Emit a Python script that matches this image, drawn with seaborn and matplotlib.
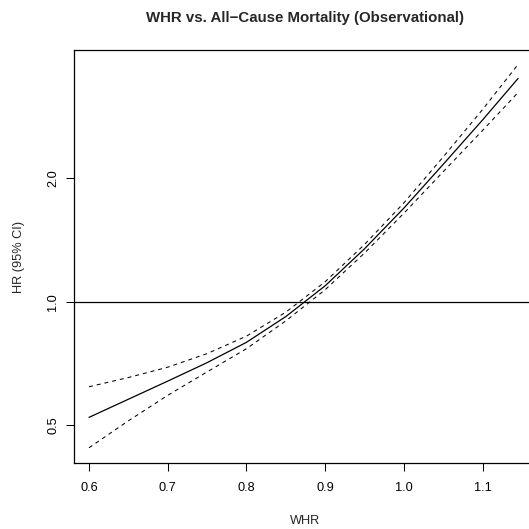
import numpy as np
import pandas as pd
import matplotlib
matplotlib.use("Agg")
import matplotlib.pyplot as plt
from matplotlib.ticker import FixedLocator, FixedFormatter, NullLocator
import seaborn as sns

# Data
whr = [0.60, 0.65, 0.70, 0.75, 0.80, 0.85, 0.90, 0.95, 1.00, 1.05, 1.10, 1.145]
hr = [0.522, 0.578, 0.640, 0.710, 0.796, 0.920, 1.094, 1.347, 1.693, 2.166, 2.780, 3.509]
hr_lower = [0.440, 0.512, 0.591, 0.674, 0.768, 0.898, 1.070, 1.315, 1.645, 2.078, 2.621, 3.242]
hr_upper = [0.620, 0.653, 0.692, 0.747, 0.824, 0.943, 1.119, 1.380, 1.744, 2.258, 2.948, 3.797]

x_ticks = [0.6, 0.7, 0.8, 0.9, 1.0, 1.1]
x_tick_labels = ["0.6", "0.7", "0.8", "0.9", "1.0", "1.1"]
y_ticks = [0.5, 1.0, 2.0]
y_tick_labels = ["0.5", "1.0", "2.0"]

title = "WHR vs. All\u2212Cause Mortality (Observational)"
xlabel = "WHR"
ylabel = "HR (95% CI)"

sns.set_style("ticks")
plt.rcParams["font.family"] = ["Liberation Sans", "DejaVu Sans"]

W = H = 529
dpi = 100
fig = plt.figure(figsize=(W / dpi, H / dpi), dpi=dpi)
left, right, top, bottom = 73.5, 536.0, 50.0, 463.0
ax = fig.add_axes([left / W, 1 - bottom / H, (right - left) / W, (bottom - top) / H])

df = pd.DataFrame({"WHR": whr, "HR": hr, "Lower": hr_lower, "Upper": hr_upper})

dash = (0, (3.8, 3.8))
sns.lineplot(data=df, x="WHR", y="HR", ax=ax, color="black", lw=0.9, estimator=None, sort=False)
sns.lineplot(data=df, x="WHR", y="Lower", ax=ax, color="black", lw=0.75, linestyle=dash, estimator=None, sort=False)
sns.lineplot(data=df, x="WHR", y="Upper", ax=ax, color="black", lw=0.75, linestyle=dash, estimator=None, sort=False)
ax.axhline(1.0, color="black", lw=0.9)

ax.set_yscale("log")
ax.set_xlim(0.5803, 1.1677)
ax.set_ylim(0.4039, 4.116)

ax.xaxis.set_major_locator(FixedLocator(x_ticks))
ax.xaxis.set_major_formatter(FixedFormatter(x_tick_labels))
ax.yaxis.set_major_locator(FixedLocator(y_ticks))
ax.yaxis.set_major_formatter(FixedFormatter(y_tick_labels))
ax.yaxis.set_minor_locator(NullLocator())
ax.xaxis.set_minor_locator(NullLocator())

ax.tick_params(axis="both", direction="out", length=5.8, width=0.75, color="black",
               labelsize=9.2, labelcolor="black")
ax.tick_params(axis="x", pad=8)
ax.tick_params(axis="y", pad=4.5)
for lab in ax.get_yticklabels():
    lab.set_rotation(90)
    lab.set_va("center")

for s in ax.spines.values():
    s.set_visible(True)
    s.set_color("black")
    s.set_linewidth(0.9)

ax.set_xlabel(xlabel, fontsize=9.2, labelpad=15)
ax.set_ylabel(ylabel, fontsize=9.2, labelpad=16)
fig.text((left + right) / 2 / W, 1 - 18 / H, title, ha="center", va="center",
         fontsize=10.8, fontweight="bold")

fig.savefig("out.png", dpi=dpi)
